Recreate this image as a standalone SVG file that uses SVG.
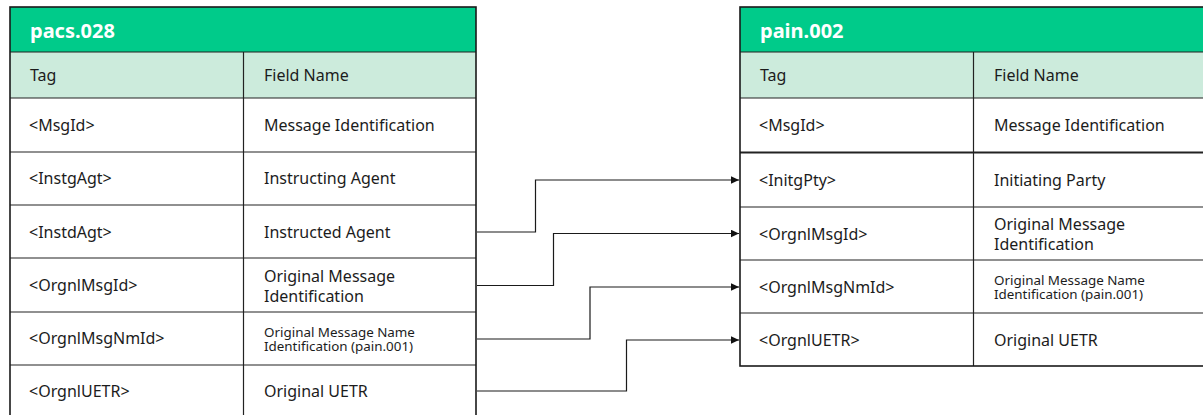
<svg xmlns="http://www.w3.org/2000/svg" width="1203" height="415" viewBox="0 0 1203 415">
  <defs>
    <marker id="arrow" markerUnits="userSpaceOnUse" markerWidth="9" markerHeight="8" refX="8.5" refY="4" orient="auto">
      <path d="M0,0 L8.5,4 L0,8 Z" fill="#111"/>
    </marker>
  </defs>
  <style>
    .title { fill: #00CB8A; }
    .head { fill: #CCEBDC; }
    .cell { fill: #FFFFFF; }
    .grid { stroke: #222; stroke-width: 1.2; fill: none; }
    .frame { stroke: #1a1a1a; stroke-width: 1.6; fill: none; }
    .t { font-family: "Noto Sans", "Open Sans", sans-serif; font-size: 16px; fill: #1c1c1c; }
    .s { font-family: "Noto Sans", "Open Sans", sans-serif; font-size: 13.4px; fill: #1c1c1c; }
    .h { font-family: "Noto Sans", "Open Sans", sans-serif; font-size: 20px; font-weight: bold; fill: #FFFFFF; }
    .link { stroke: #1a1a1a; stroke-width: 1.2; fill: none; marker-end: url(#arrow); }
  </style>

  <!-- pacs.028 field table -->
  <g id="pacs028">
    <rect class="title" x="10" y="7" width="466" height="45"/>
    <rect class="head" x="10" y="52" width="466" height="46"/>
    <rect class="cell" x="10" y="98" width="466" height="321"/>
    <text class="h" x="30" y="38">pacs.028</text>
    <g id="pacs028-head">
      <text class="t" x="30" y="81">Tag</text>
      <text class="t" x="264" y="81">Field Name</text>
    </g>
    <g id="pacs028-msgid">
      <text class="t" x="29" y="131">&lt;MsgId&gt;</text>
      <text class="t" x="264" y="131">Message Identification</text>
    </g>
    <g id="pacs028-instgagt">
      <text class="t" x="29" y="184">&lt;InstgAgt&gt;</text>
      <text class="t" x="264" y="184">Instructing Agent</text>
    </g>
    <g id="pacs028-instdagt">
      <text class="t" x="29" y="238">&lt;InstdAgt&gt;</text>
      <text class="t" x="264" y="238">Instructed Agent</text>
    </g>
    <g id="pacs028-orgnlmsgid">
      <text class="t" x="29" y="291">&lt;OrgnlMsgId&gt;</text>
      <text class="t" x="264" y="281.5">Original Message</text>
      <text class="t" x="264" y="301.5">Identification</text>
    </g>
    <g id="pacs028-orgnlmsgnmid">
      <text class="t" x="29" y="344">&lt;OrgnlMsgNmId&gt;</text>
      <text class="s" x="264" y="336.5">Original Message Name</text>
      <text class="s" x="264" y="351">Identification (pain.001)</text>
    </g>
    <g id="pacs028-orgnluetr">
      <text class="t" x="29" y="397">&lt;OrgnlUETR&gt;</text>
      <text class="t" x="264" y="397">Original UETR</text>
    </g>
    <path class="grid" d="M10,52 H476 M10,98 H476 M10,152 H476 M10,205 H476 M10,258 H476 M10,312 H476 M10,365 H476 M243.5,52 V419"/>
    <rect class="frame" x="10" y="7" width="466" height="412"/>
  </g>

  <!-- pain.002 field table -->
  <g id="pain002">
    <rect class="title" x="740" y="7" width="470" height="45"/>
    <rect class="head" x="740" y="52" width="470" height="46"/>
    <rect class="cell" x="740" y="98" width="470" height="268"/>
    <text class="h" x="760" y="38">pain.002</text>
    <g id="pain002-head">
      <text class="t" x="760" y="81">Tag</text>
      <text class="t" x="994" y="81">Field Name</text>
    </g>
    <g id="pain002-msgid">
      <text class="t" x="759" y="131">&lt;MsgId&gt;</text>
      <text class="t" x="994" y="131">Message Identification</text>
    </g>
    <g id="pain002-initgpty">
      <text class="t" x="759" y="186">&lt;InitgPty&gt;</text>
      <text class="t" x="994" y="186">Initiating Party</text>
    </g>
    <g id="pain002-orgnlmsgid">
      <text class="t" x="759" y="239.5">&lt;OrgnlMsgId&gt;</text>
      <text class="t" x="994" y="229.5">Original Message</text>
      <text class="t" x="994" y="249.5">Identification</text>
    </g>
    <g id="pain002-orgnlmsgnmid">
      <text class="t" x="759" y="292.5">&lt;OrgnlMsgNmId&gt;</text>
      <text class="s" x="994" y="284.5">Original Message Name</text>
      <text class="s" x="994" y="299">Identification (pain.001)</text>
    </g>
    <g id="pain002-orgnluetr">
      <text class="t" x="759" y="345.5">&lt;OrgnlUETR&gt;</text>
      <text class="t" x="994" y="345.5">Original UETR</text>
    </g>
    <path class="grid" d="M740,52 H1210 M740,98 H1210 M740,207 H1210 M740,260 H1210 M740,313 H1210 M973.5,52 V366"/>
    <path class="grid" style="stroke-width:2" d="M740,152.5 H1210"/>
    <rect class="frame" x="740" y="7" width="470" height="359"/>
  </g>

  <!-- field mapping connectors -->
  <g id="connectors">
    <path class="link" d="M477,232 H535.5 V180 H739"/>
    <path class="link" d="M477,285.5 H553.5 V233.5 H739"/>
    <path class="link" d="M477,339 H590 V287 H739"/>
    <path class="link" d="M477,391 H626.5 V340 H739"/>
  </g>
</svg>
